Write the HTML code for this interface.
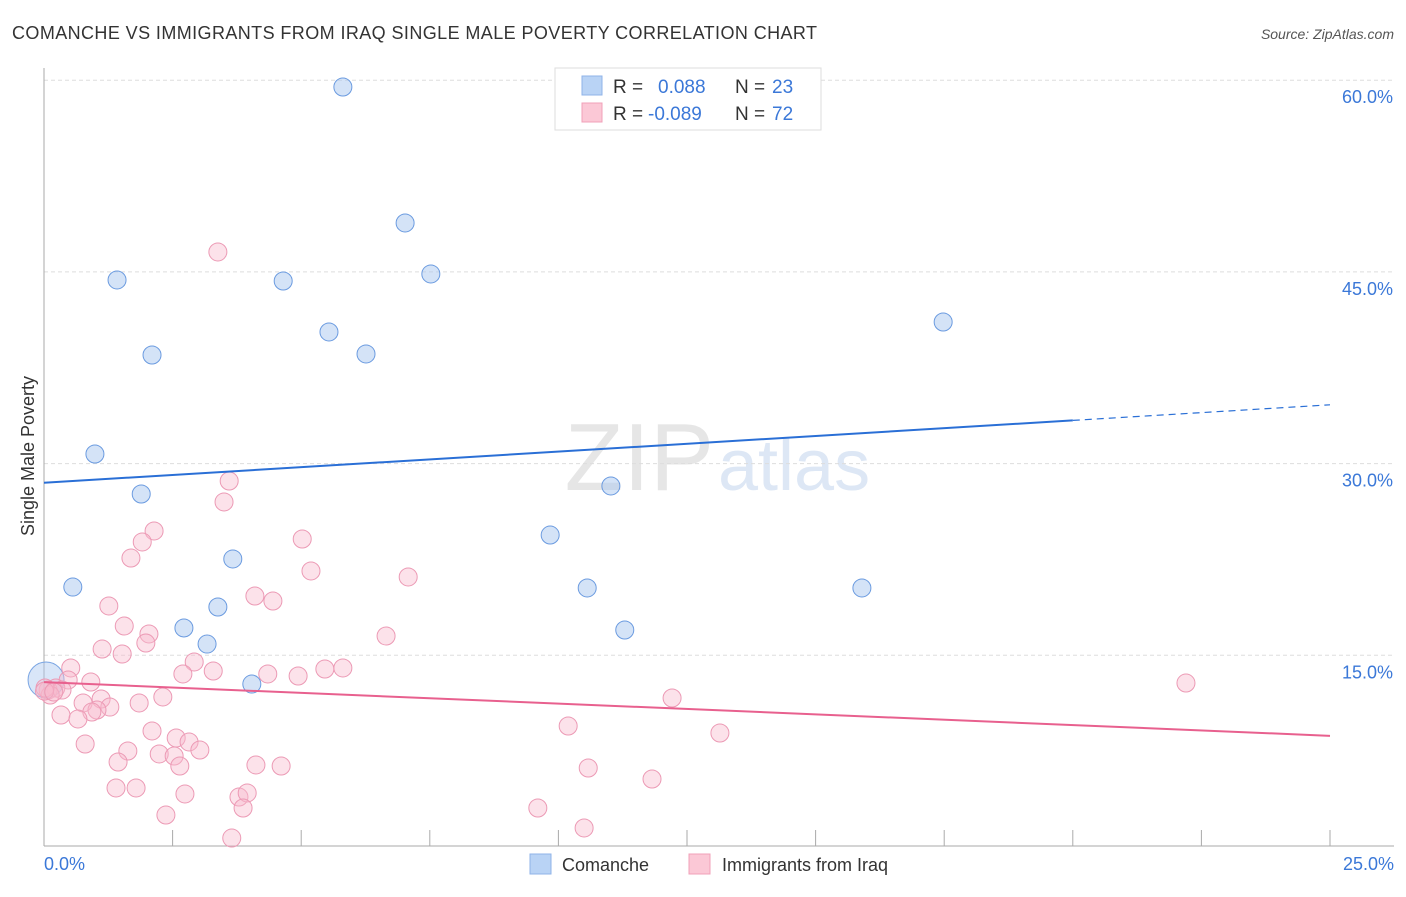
<!DOCTYPE html>
<html><head><meta charset="utf-8"><style>
body{margin:0;background:#fff;font-family:"Liberation Sans",sans-serif}
svg text{font-family:"Liberation Sans",sans-serif}
</style></head><body>
<svg id="chart" width="1406" height="892" viewBox="0 0 1406 892" xmlns="http://www.w3.org/2000/svg">
<text x="12" y="39" font-size="18" fill="#333" textLength="805">COMANCHE VS IMMIGRANTS FROM IRAQ SINGLE MALE POVERTY CORRELATION CHART</text>
<text x="1394" y="39" font-size="14" fill="#555" font-style="italic" text-anchor="end">Source: ZipAtlas.com</text>
<text x="714" y="490" font-size="96" fill="#e6e6e6" text-anchor="end" font-family="Liberation Serif">ZIP</text>
<text x="718" y="490" font-size="72" fill="#dde7f5">atlas</text>
<g id="grid"></g>
<g id="axes"></g>
<g id="marks"></g>
<text transform="translate(34,456) rotate(-90)" font-size="18" fill="#333" text-anchor="middle">Single Male Poverty</text>
<g>
<rect x="555" y="68" width="266" height="62" fill="#fff" stroke="#ddd"/>
<rect x="582" y="76" width="20" height="19" fill="#b9d3f5" stroke="#8fb3e8"/>
<rect x="582" y="103" width="20" height="19" fill="#fbc8d6" stroke="#f0a0b8"/>
<text x="613" y="93" font-size="19" fill="#333">R =</text><text x="658" y="93" font-size="19" fill="#3b78d8">0.088</text>
<text x="735" y="93" font-size="19" fill="#333">N =</text><text x="772" y="93" font-size="19" fill="#3b78d8">23</text>
<text x="613" y="120" font-size="19" fill="#333">R =</text><text x="648" y="120" font-size="19" fill="#3b78d8">-0.089</text>
<text x="735" y="120" font-size="19" fill="#333">N =</text><text x="772" y="120" font-size="19" fill="#3b78d8">72</text>
</g>
<g>
<rect x="530" y="854" width="21" height="20" fill="#b9d3f5" stroke="#8fb3e8"/>
<text x="562" y="871" font-size="18" fill="#333">Comanche</text>
<rect x="689" y="854" width="21" height="20" fill="#fbc8d6" stroke="#f0a0b8"/>
<text x="722" y="871" font-size="18" fill="#333">Immigrants from Iraq</text>
</g>
</svg>
<script>
const xTickLabels=["0.0%","25.0%"];
const yTicks=[15,30,45,60];
const yTickLabels=["15.0%","30.0%","45.0%","60.0%"];
const comancheX=[5.81,7.02,1.42,4.65,7.52,5.54,2.10,6.26,17.48,0.99,1.89,11.02,9.84,3.67,0.56,10.56,15.90,3.38,2.72,11.29,3.17,4.04,0.04];
const comancheY=[59.47,48.83,44.37,44.29,44.84,40.30,38.50,38.58,41.08,30.75,27.62,28.25,24.41,22.54,20.34,20.27,20.27,18.78,17.14,16.98,15.88,12.75,13.07];
const iraqX=[3.38,3.60,3.50,2.14,1.91,1.69,5.02,5.19,7.08,4.10,4.45,1.26,1.56,2.04,1.98,1.13,1.52,6.65,2.92,0.52,2.70,3.29,4.35,4.94,5.46,5.81,0.91,0.47,0.23,0.08,0.35,2.31,1.85,1.11,0.76,1.28,1.03,0.93,0.33,0.66,12.21,22.20,2.10,2.57,2.82,10.19,13.14,0.80,1.63,2.24,3.03,2.53,2.64,1.44,4.12,4.61,10.58,11.82,1.40,1.79,2.74,3.79,3.95,3.87,9.60,2.37,3.65,10.50,0.12,0.02,0.01,0.19];
const iraqY=[46.56,28.64,27.00,24.73,23.87,22.61,24.10,21.60,21.13,19.64,19.25,18.86,17.29,16.67,15.96,15.49,15.10,16.51,14.48,14.01,13.54,13.77,13.54,13.38,13.93,14.01,12.91,13.07,12.44,12.28,12.28,11.74,11.27,11.58,11.27,10.95,10.72,10.56,10.33,10.02,11.66,12.83,9.08,8.53,8.22,9.47,8.92,8.06,7.51,7.28,7.59,7.12,6.34,6.65,6.42,6.34,6.18,5.32,4.62,4.62,4.15,3.91,4.23,3.05,3.05,2.50,0.70,1.49,11.89,12.44,12.2,12.13];
const comancheTrend=[28.5,34.6];
const iraqTrend=[12.9,8.7];
const NS="http://www.w3.org/2000/svg";
const X=v=>44+v*51.44, Y=v=>847-v*12.78;
function mk(tag,at,parent){const e=document.createElementNS(NS,tag);for(const k in at)e.setAttribute(k,at[k]);parent.appendChild(e);return e;}
const grid=document.getElementById('grid'),axes=document.getElementById('axes'),marks=document.getElementById('marks');
yTicks.forEach((t,i)=>{
 const l=mk('line',{x1:44,x2:1394,y1:Y(t),y2:Y(t),stroke:'#ddd','stroke-dasharray':'4,3'},grid);
 
 
 const tx=mk('text',{x:1393,y:Y(t)+23,'font-size':18,fill:'#3b78d8','text-anchor':'end'},axes);
 tx.textContent=yTickLabels[i];
 
 
});
mk('line',{x1:44,x2:44,y1:68,y2:846,stroke:'#aaa'},axes);
mk('line',{x1:44,x2:1394,y1:846,y2:846,stroke:'#aaa'},axes);
for(let i=1;i<=10;i++){const x=X(i*2.5);const t=mk('line',{x1:x,x2:x,y1:830,y2:846,stroke:'#aaa'},axes);
 
 }
const xl0=mk('text',{x:44,y:870,'font-size':18,fill:'#3b78d8'},axes);xl0.textContent=xTickLabels[0];


const xl1=mk('text',{x:1394,y:870,'font-size':18,fill:'#3b78d8','text-anchor':'end'},axes);xl1.textContent=xTickLabels[1];


comancheX.forEach((v,i)=>{if(i!==22)return;const c=mk('circle',{cx:X(v),cy:Y(comancheY[i]),r:18,fill:'rgba(170,200,240,0.45)',stroke:'#7aa5e3','stroke-width':1},marks);
 
 });
iraqX.forEach((v,i)=>{const c=mk('circle',{cx:X(v),cy:Y(iraqY[i]),r:9,fill:'rgba(248,185,205,0.42)',stroke:'#ec9ab5','stroke-width':1},marks);
 
 });
comancheX.forEach((v,i)=>{if(i===22)return;const c=mk('circle',{cx:X(v),cy:Y(comancheY[i]),r:9,fill:'rgba(170,200,240,0.5)',stroke:'#6b9be0','stroke-width':1},marks);
 
 });
const xs=20;
const by=v=>comancheTrend[0]+(comancheTrend[1]-comancheTrend[0])*v/25;
const b1=mk('line',{x1:X(0),y1:Y(by(0)),x2:X(xs),y2:Y(by(xs)),stroke:'#2a6fd6','stroke-width':2},marks);


const b2=mk('line',{x1:X(xs),y1:Y(by(xs)),x2:X(25),y2:Y(by(25)),stroke:'#2a6fd6','stroke-width':1.2,'stroke-dasharray':'7,5'},marks);


const p1=mk('line',{x1:X(0),y1:Y(iraqTrend[0]),x2:X(25),y2:Y(iraqTrend[1]),stroke:'#e8608e','stroke-width':2},marks);


</script>
</body></html>
